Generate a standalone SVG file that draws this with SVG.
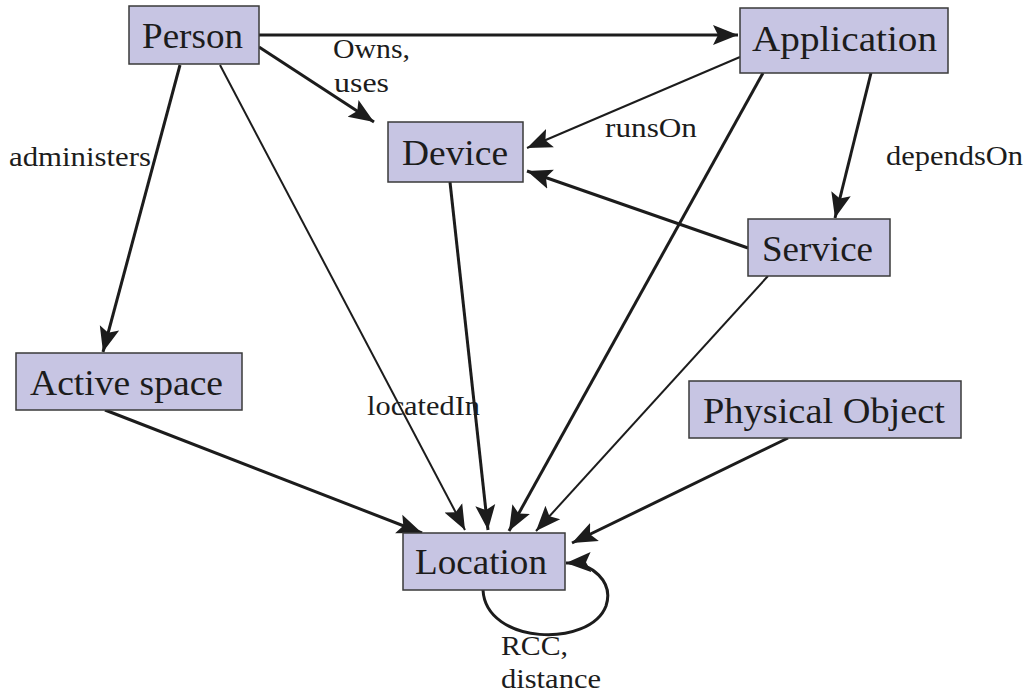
<svg xmlns="http://www.w3.org/2000/svg" width="1029" height="694" viewBox="0 0 1029 694">
  <style>
    .box { fill: #c7c5e3; stroke: #3a3a3a; stroke-width: 1.5; }
    .ntext { font-size: 36px; fill: #1c1c1c; }
    .ltext { font-size: 28px; fill: #1c1c1c; }
    .edge { fill: none; stroke: #1c1c1c; stroke-width: 3; marker-end: url(#arrow); }
    .thin { stroke-width: 2; }
  </style>
  <defs>
    <marker id="arrow" markerUnits="userSpaceOnUse" markerWidth="28" markerHeight="22" viewBox="0 0 28 22" refX="25" refY="11" orient="auto">
      <path d="M0,1 L25,11 L0,21 L5,11 Z" fill="#1c1c1c"/>
    </marker>
  </defs>

  <!-- connectors -->
  <g id="connectors">
    <line class="edge" x1="258" y1="35" x2="738" y2="35"/>
    <line class="edge" x1="259" y1="47" x2="374" y2="122"/>
    <line class="edge" x1="180" y1="65" x2="103" y2="352"/>
    <line class="edge thin" x1="220" y1="65" x2="465" y2="530"/>
    <line class="edge" x1="450" y1="182" x2="488" y2="530"/>
    <line class="edge thin" x1="740" y1="57" x2="527" y2="148"/>
    <line class="edge" x1="763" y1="73" x2="509" y2="531"/>
    <line class="edge" x1="871" y1="73" x2="835" y2="218"/>
    <line class="edge" x1="748" y1="248" x2="527" y2="171"/>
    <line class="edge thin" x1="768" y1="276" x2="536" y2="531"/>
    <line class="edge" x1="788" y1="438" x2="572" y2="543"/>
    <line class="edge" x1="105" y1="410" x2="422" y2="533"/>
    <path class="edge" d="M483,590 C486,645 590,648 606,606 C614,582 592,562 566,563"/>
  </g>

  <!-- edge labels -->
  <g id="labels" font-family="Liberation Serif, serif">
    <text class="ltext" x="333" y="58" textLength="77" lengthAdjust="spacingAndGlyphs">Owns,</text>
    <text class="ltext" x="334" y="92" textLength="55" lengthAdjust="spacingAndGlyphs">uses</text>
    <text class="ltext" x="605" y="137" textLength="92" lengthAdjust="spacingAndGlyphs">runsOn</text>
    <text class="ltext" x="9" y="166" textLength="142" lengthAdjust="spacingAndGlyphs">administers</text>
    <text class="ltext" x="886" y="165" textLength="137" lengthAdjust="spacingAndGlyphs">dependsOn</text>
    <text class="ltext" x="367" y="415" textLength="113" lengthAdjust="spacingAndGlyphs">locatedIn</text>
    <text class="ltext" x="501" y="655" textLength="67" lengthAdjust="spacingAndGlyphs">RCC,</text>
    <text class="ltext" x="501" y="688" textLength="100" lengthAdjust="spacingAndGlyphs">distance</text>
  </g>

  <!-- nodes -->
  <g id="nodes" font-family="Liberation Serif, serif">
    <g id="person">
      <rect class="box" x="129" y="6" width="130" height="58"/>
      <text class="ntext" x="142" y="48" textLength="101" lengthAdjust="spacingAndGlyphs">Person</text>
    </g>
    <g id="application">
      <rect class="box" x="740" y="8" width="208" height="65"/>
      <text class="ntext" x="752" y="51" textLength="185" lengthAdjust="spacingAndGlyphs">Application</text>
    </g>
    <g id="device">
      <rect class="box" x="388" y="122" width="135" height="60"/>
      <text class="ntext" x="402" y="165" textLength="106" lengthAdjust="spacingAndGlyphs">Device</text>
    </g>
    <g id="service">
      <rect class="box" x="748" y="219" width="142" height="57"/>
      <text class="ntext" x="762" y="261" textLength="111" lengthAdjust="spacingAndGlyphs">Service</text>
    </g>
    <g id="active-space">
      <rect class="box" x="16" y="353" width="226" height="57"/>
      <text class="ntext" x="30" y="395" textLength="193" lengthAdjust="spacingAndGlyphs">Active space</text>
    </g>
    <g id="physical-object">
      <rect class="box" x="689" y="381" width="272" height="57"/>
      <text class="ntext" x="703" y="423" textLength="242" lengthAdjust="spacingAndGlyphs">Physical Object</text>
    </g>
    <g id="location">
      <rect class="box" x="403" y="533" width="162" height="57"/>
      <text class="ntext" x="415" y="574" textLength="132" lengthAdjust="spacingAndGlyphs">Location</text>
    </g>
  </g>
</svg>
